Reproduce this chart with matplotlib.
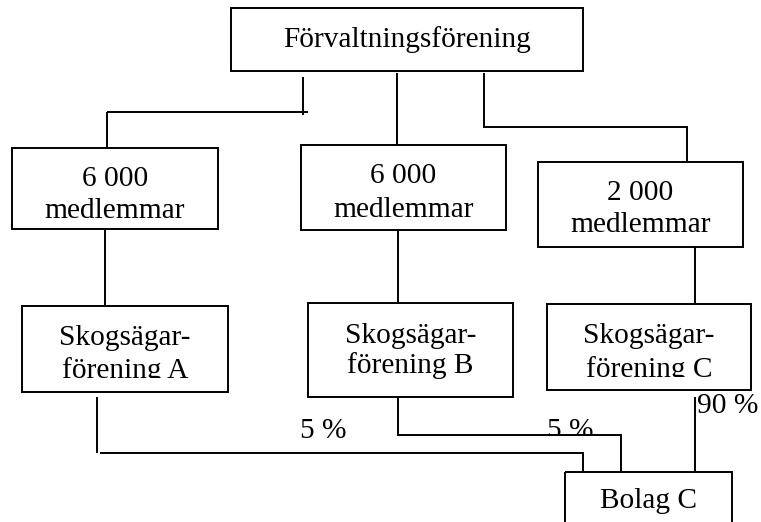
import matplotlib
matplotlib.use("Agg")
import matplotlib.pyplot as plt
from matplotlib.patches import Rectangle

# ---- content ----
top_label = "Förvaltningsförening"
member_counts = ["6 000", "6 000", "2 000"]
member_word = "medlemmar"
union_line1 = ["Skogsägar-", "Skogsägar-", "Skogsägar-"]
union_line2 = ["förening A", "förening B", "förening C"]
company_label = "Bolag C"
ownership = ["5 %", "5 %", "90 %"]

# ---- layout (pixel coordinates, y downward) ----
W, H = 761, 522
top_box = (231, 8, 583, 71)
member_boxes = [(12, 148, 218, 229), (301, 145, 506, 230), (538, 162, 743, 247)]
union_boxes = [(22, 306, 228, 392), (308, 303, 513, 397), (547, 304, 751, 390)]
company_box = (565, 472, 732, 530)

member_base = [(186, 218), (183, 217), (200, 232)]
union_base = [(345, 378), (343, 373), (343, 377)]
union_clip = [378, None, 377]

FS = 21.2
FONT = "Liberation Serif"
LW = 1.4

fig = plt.figure(figsize=(W / 100, H / 100), dpi=100)
ax = fig.add_axes([0, 0, 1, 1])
ax.set_xlim(0, W)
ax.set_ylim(H, 0)
ax.axis("off")


def box(b):
    x0, y0, x1, y1 = b
    ax.add_patch(Rectangle((x0, y0), x1 - x0, y1 - y0, fill=False,
                           edgecolor="black", linewidth=LW, zorder=2))


def line(xs, ys):
    ax.plot(xs, ys, color="black", linewidth=LW, solid_capstyle="butt",
            solid_joinstyle="miter", zorder=2)


def text(x, y, s, clip_bottom=None, ha="center"):
    t = ax.text(x, y, s, ha=ha, va="baseline", fontsize=FS, family=FONT,
                color="black", zorder=3)
    if clip_bottom is not None:
        r = Rectangle((0, 0), W, clip_bottom, transform=ax.transData,
                      visible=False)
        ax.add_patch(r)
        t.set_clip_path(r)
        t.set_clip_on(True)
    return t


# top box
box(top_box)
text((top_box[0] + top_box[2]) / 2, 47, top_label)

# connectors from top box to member boxes
line([303, 303], [77, 115])
line([107, 308], [112, 112])
line([107, 107], [112, 148])
line([397, 397], [73, 145])
line([484, 484, 687, 687], [73, 127, 127, 162])

# member boxes
for b, (b1, b2), cnt in zip(member_boxes, member_base, member_counts):
    box(b)
    cx = (b[0] + b[2]) / 2
    text(cx, b1, cnt)
    text(cx, b2, member_word)

# connectors member -> union
line([105, 105], [229, 306])
line([398, 398], [230, 303])
line([695, 695], [247, 304])

# union boxes
for b, (b1, b2), l1, l2, clip in zip(union_boxes, union_base, union_line1,
                                     union_line2, union_clip):
    box(b)
    cx = (b[0] + b[2]) / 2
    text(cx, b1, l1)
    text(cx, b2, l2, clip_bottom=clip)

# connectors union -> company
line([97, 97], [397, 453])
line([100, 583, 583], [453, 453, 472])
line([398, 398, 621, 621], [397, 435, 435, 472])
line([695, 695], [397, 472])

# company box
box(company_box)
text(648, 508, company_label)

# ownership labels
text(323, 438, ownership[0])
text(570, 438, ownership[1], clip_bottom=434)
text(697, 413, ownership[2], ha="left")

fig.savefig("out.png", dpi=100)
